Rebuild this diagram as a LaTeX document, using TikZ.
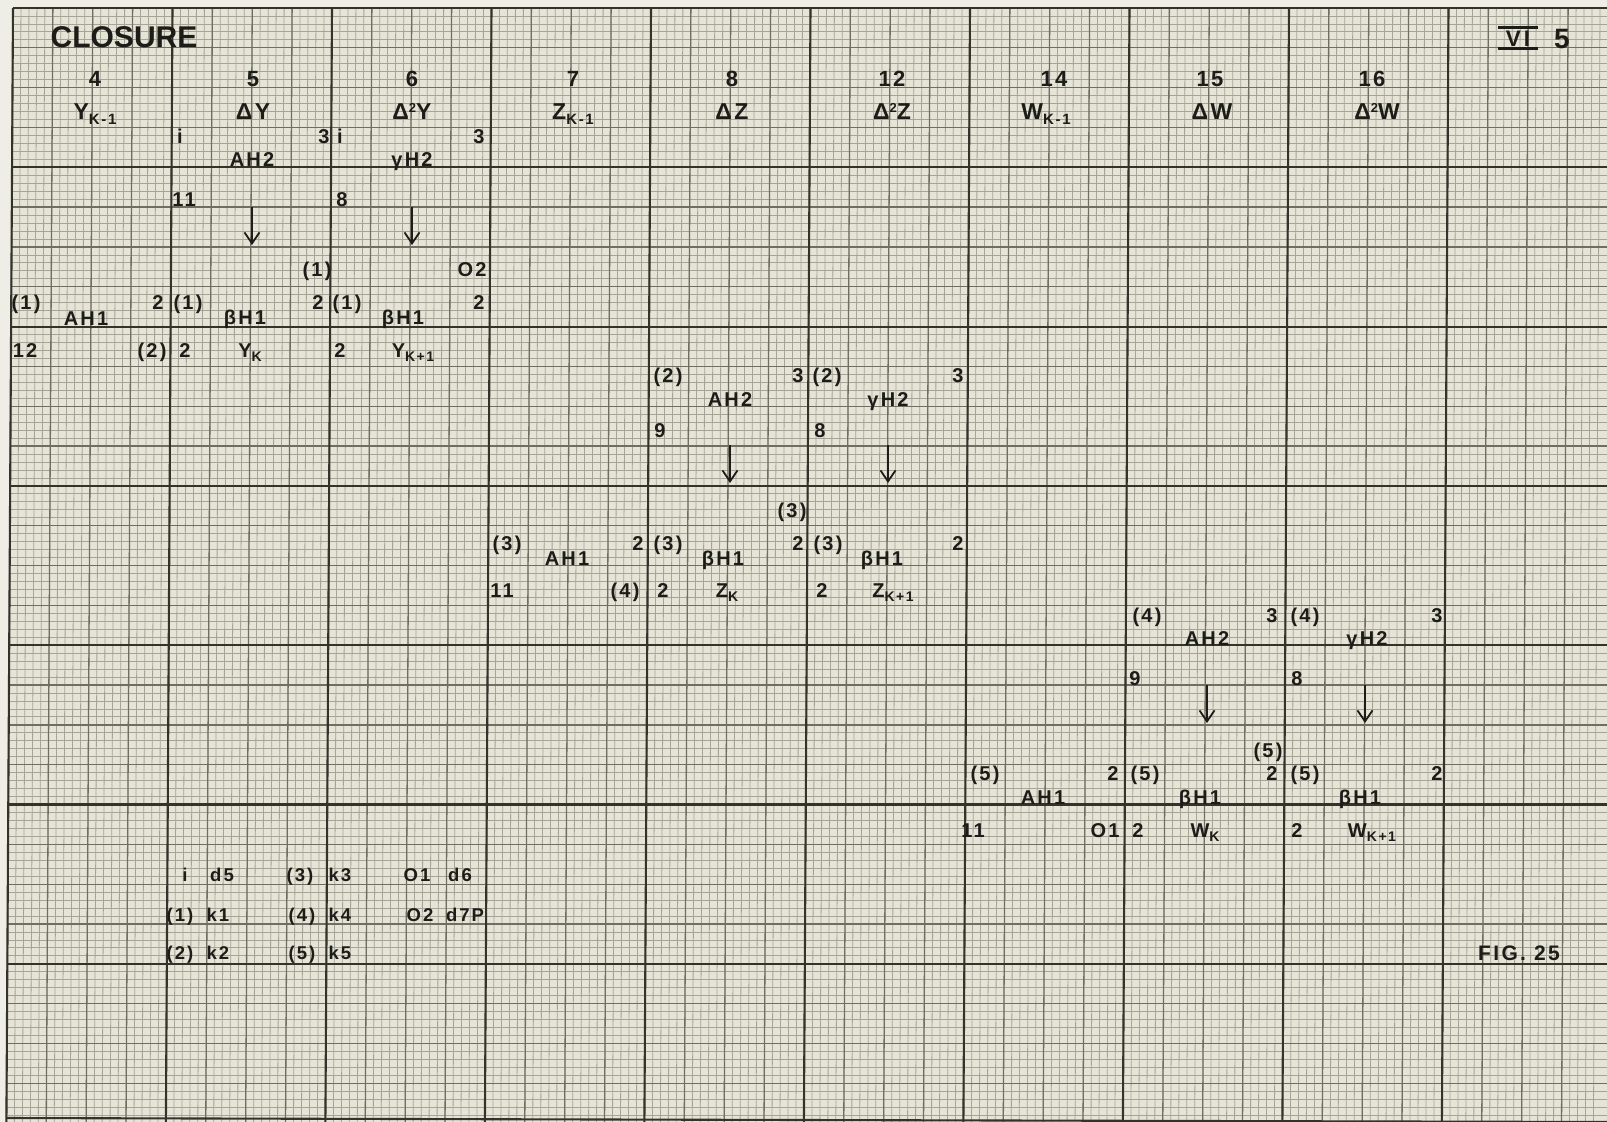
\documentclass[tikz,border=0pt]{standalone}
\usepackage{fontspec}
\setmainfont{Liberation Sans}
\newfontfamily\lsf{Liberation Sans}[LetterSpace=11]
\usetikzlibrary{arrows.meta}
\definecolor{paper}{HTML}{E5E4D6}
\definecolor{marginC}{HTML}{EEEDE6}
\definecolor{fineC}{HTML}{A4A497}
\definecolor{medC}{HTML}{6E6E63}
\definecolor{heavyC}{HTML}{33332C}
\definecolor{ink}{HTML}{1C1C18}
\newcommand\titf{\bfseries\fontsize{30}{32}\selectfont}
\newcommand\numf{\lsf\bfseries\fontsize{22}{24}\selectfont}
\newcommand\namef{\lsf\bfseries\fontsize{23}{25}\selectfont}
\newcommand\labf{\lsf\bfseries\fontsize{20}{22}\selectfont}
\newcommand\legf{\lsf\bfseries\fontsize{18.5}{20}\selectfont}
\newcommand\figf{\lsf\bfseries\fontsize{21}{23}\selectfont}
\newcommand\hsub[1]{\raisebox{-5pt}{\fontsize{15}{15}\selectfont #1}}
\newcommand\lsub[1]{\raisebox{-4pt}{\fontsize{14}{14}\selectfont #1}}
\newcommand\sqr{\raisebox{7pt}{\fontsize{13}{13}\selectfont 2}}
\begin{document}
\begin{tikzpicture}[x=1pt,y=-1pt,
  fineline/.style={draw=fineC, line width=0.8pt},
  medline/.style={draw=medC, line width=1.3pt},
  heavyline/.style={draw=heavyC, line width=2.1pt},
  lab/.style={inner sep=0pt, text height=14.3pt, text depth=0pt, text=ink, font=\labf},
  hnum/.style={inner sep=0pt, text height=16pt, text depth=0pt, text=ink, font=\numf},
  hname/.style={inner sep=0pt, text height=17pt, text depth=0pt, text=ink, font=\namef},
  leg/.style={inner sep=0pt, text height=13.2pt, text depth=0pt, text=ink, font=\legf},
  arr/.style={draw=ink, line width=1.8pt, -{Straight Barb[length=11pt,width=15pt,line width=1.8pt]}}]
\useasboundingbox (0,0) rectangle (1607,1122);
% ---------- graph paper ----------
\begin{scope}
\clip (0,0) rectangle (1607,1122);
\fill[marginC] (0,0) rectangle (1607,1122);
\fill[paper] (13,8) -- (1607,8) -- (1607,1122) -- (6.4,1122) -- cycle;
\foreach \k in {0,...,199}{
  \pgfmathsetmacro\xx{13+7.975*\k}
  \draw[fineline] (\xx,8) -- (\xx-6.6,1122);}
\foreach \k in {0,...,139}{
  \pgfmathsetmacro\yy{8+7.965*\k}
  \pgfmathsetmacro\xl{13-0.00594*(\yy-8)}
  \draw[fineline] (\xl,\yy) -- (1607,\yy);}
\foreach \k in {0,...,39}{
  \pgfmathsetmacro\xx{13+39.875*\k}
  \draw[medline] (\xx,8) -- (\xx-6.6,1122);}
\foreach \k in {0,...,27}{
  \pgfmathsetmacro\yy{8+39.825*\k}
  \pgfmathsetmacro\xl{13-0.00594*(\yy-8)}
  \draw[medline] (\xl,\yy) -- (1607,\yy);}
\foreach \k in {0,...,9}{
  \pgfmathsetmacro\xx{13+159.5*\k}
  \draw[heavyline] (\xx,8) -- (\xx-6.6,1122);}
\foreach \k in {0,...,6}{
  \pgfmathsetmacro\yy{8+159.3*\k}
  \pgfmathsetmacro\xl{13-0.00594*(\yy-8)}
  \draw[heavyline] (\xl,\yy) -- (1607,\yy);}
\draw[heavyline] (6.4,1118) -- (1607,1122);
\end{scope}
% ---------- title ----------
\node[inner sep=0pt, text height=22pt, text depth=0pt, text=ink, font=\titf] (closure) at (124,36) {CLOSURE};
\node[inner sep=0pt, text height=16pt, text depth=0pt, minimum width=40pt, text=ink, font=\bfseries\fontsize{22.5}{24}\selectfont] (vi) at (1518,38) {V\hspace{3pt}I};
\draw[ink, line width=2.8pt] ([yshift=2.3pt]vi.north west) -- ([yshift=2.3pt]vi.north east);
\draw[ink, line width=2.8pt] ([yshift=-2.3pt]vi.south west) -- ([yshift=-2.3pt]vi.south east);
\node[inner sep=0pt, text height=20pt, text depth=0pt, text=ink, font=\bfseries\fontsize{28}{30}\selectfont] (pg) at (1562,38) {5};
% ---------- column headers ----------
\node[hnum] (h4) at (95,78) {4};
\node[hnum] (h5) at (253,78) {5};
\node[hnum] (h6) at (412,78) {6};
\node[hnum] (h7) at (573,78) {7};
\node[hnum] (h8) at (732,78) {8};
\node[hnum] (h12) at (892,78) {12};
\node[hnum] (h14) at (1054,78) {14};
\node[hnum] (h15) at (1210,78) {15};
\node[hnum] (h16) at (1372,78) {16};
\node[hname] (n4) at (95,111) {Y\hsub{K-1}};
\node[hname] (n5) at (253,111) {ΔY};
\node[hname] (n6) at (412,111) {Δ\sqr Y};
\node[hname] (n7) at (573,111) {Z\hsub{K-1}};
\node[hname] (n8) at (732,111) {ΔZ};
\node[hname] (n12) at (892,111) {Δ\sqr Z};
\node[hname] (n14) at (1046,111) {W\hsub{K-1}};
\node[hname] (n15) at (1212,111) {ΔW};
\node[hname] (n16) at (1377,111) {Δ\sqr W};
% ---------- Y block ----------
\node[lab] (y_i) at (180,136) {i};
\node[lab] (y_3a) at (324,136) {3};
\node[lab] (y_ib) at (340,136) {i};
\node[lab] (y_3b) at (479,136) {3};
\node[lab] (y_ah2) at (252,159) {AH2};
\node[lab] (y_gh2) at (412,159) {γH2};
\node[lab] (y_11) at (184,199) {11};
\node[lab] (y_8) at (342,199) {8};
\coordinate (y_a1s) at (252,207); \coordinate (y_a1e) at (252,245);
\coordinate (y_a2s) at (412,207); \coordinate (y_a2e) at (412,245);
\draw[arr] (y_a1s) -- (y_a1e);
\draw[arr] (y_a2s) -- (y_a2e);
\node[lab] (y_p1c) at (317,269) {(1)};
\node[lab] (y_o2) at (472,269) {O2};
\node[lab] (y_p1a) at (26,302) {(1)};
\node[lab] (y_ah1) at (86,318) {AH1};
\node[lab] (y_2a) at (158,302) {2};
\node[lab] (y_p1b) at (188,302) {(1)};
\node[lab] (y_bh1a) at (245,317) {βH1};
\node[lab] (y_2b) at (318,302) {2};
\node[lab] (y_p1d) at (347,302) {(1)};
\node[lab] (y_bh1b) at (403,317) {βH1};
\node[lab] (y_2c) at (479,302) {2};
\node[lab] (y_12) at (25,350) {12};
\node[lab] (y_p2) at (152,350) {(2)};
\node[lab] (y_2d) at (185,350) {2};
\node[lab] (y_yk) at (250,350) {Y\lsub{K}};
\node[lab] (y_2e) at (340,350) {2};
\node[lab] (y_yk1) at (413,350) {Y\lsub{K+1}};
% ---------- Z block ----------
\node[lab] (z_p2a) at (668,375) {(2)};
\node[lab] (z_3a) at (798,375) {3};
\node[lab] (z_p2b) at (827,375) {(2)};
\node[lab] (z_3b) at (958,375) {3};
\node[lab] (z_ah2) at (730,399) {AH2};
\node[lab] (z_gh2) at (888,399) {γH2};
\node[lab] (z_9) at (660,430) {9};
\node[lab] (z_8) at (820,430) {8};
\coordinate (z_a1s) at (730,445); \coordinate (z_a1e) at (730,483);
\coordinate (z_a2s) at (888,445); \coordinate (z_a2e) at (888,483);
\draw[arr] (z_a1s) -- (z_a1e);
\draw[arr] (z_a2s) -- (z_a2e);
\node[lab] (z_p3c) at (792,510) {(3)};
\node[lab] (z_p3a) at (507,543) {(3)};
\node[lab] (z_ah1) at (567,558) {AH1};
\node[lab] (z_2a) at (638,543) {2};
\node[lab] (z_p3b) at (668,543) {(3)};
\node[lab] (z_bh1a) at (723,558) {βH1};
\node[lab] (z_2b) at (798,543) {2};
\node[lab] (z_p3d) at (828,543) {(3)};
\node[lab] (z_bh1b) at (882,558) {βH1};
\node[lab] (z_2c) at (958,543) {2};
\node[lab] (z_11) at (502,590) {11};
\node[lab] (z_p4) at (625,590) {(4)};
\node[lab] (z_2d) at (663,590) {2};
\node[lab] (z_zk) at (727,590) {Z\lsub{K}};
\node[lab] (z_2e) at (822,590) {2};
\node[lab] (z_zk1) at (893,590) {Z\lsub{K+1}};
% ---------- W block ----------
\node[lab] (w_p4a) at (1147,615) {(4)};
\node[lab] (w_3a) at (1272,615) {3};
\node[lab] (w_p4b) at (1305,615) {(4)};
\node[lab] (w_3b) at (1437,615) {3};
\node[lab] (w_ah2) at (1207,638) {AH2};
\node[lab] (w_gh2) at (1367,638) {γH2};
\node[lab] (w_9) at (1135,678) {9};
\node[lab] (w_8) at (1297,678) {8};
\coordinate (w_a1s) at (1207,685); \coordinate (w_a1e) at (1207,723);
\coordinate (w_a2s) at (1365,685); \coordinate (w_a2e) at (1365,723);
\draw[arr] (w_a1s) -- (w_a1e);
\draw[arr] (w_a2s) -- (w_a2e);
\node[lab] (w_p5c) at (1268,750) {(5)};
\node[lab] (w_p5a) at (985,773) {(5)};
\node[lab] (w_ah1) at (1043,797) {AH1};
\node[lab] (w_2a) at (1113,773) {2};
\node[lab] (w_p5b) at (1145,773) {(5)};
\node[lab] (w_bh1a) at (1200,797) {βH1};
\node[lab] (w_2b) at (1272,773) {2};
\node[lab] (w_p5d) at (1305,773) {(5)};
\node[lab] (w_bh1b) at (1360,797) {βH1};
\node[lab] (w_2c) at (1437,773) {2};
\node[lab] (w_11) at (973,830) {11};
\node[lab] (w_o1) at (1105,830) {O1};
\node[lab] (w_2d) at (1138,830) {2};
\node[lab] (w_wk) at (1205,830) {W\lsub{K}};
\node[lab] (w_2e) at (1297,830) {2};
\node[lab] (w_wk1) at (1372,830) {W\lsub{K+1}};
% ---------- legend ----------
\node[leg] (l_i) at (185,875) {i};
\node[leg] (l_d5) at (222,875) {d5};
\node[leg] (l_p3) at (300,875) {(3)};
\node[leg] (l_k3) at (340,875) {k3};
\node[leg] (l_o1) at (417,875) {O1};
\node[leg] (l_d6) at (460,875) {d6};
\node[leg] (l_p1) at (180,915) {(1)};
\node[leg] (l_k1) at (218,915) {k1};
\node[leg] (l_p4) at (302,915) {(4)};
\node[leg] (l_k4) at (340,915) {k4};
\node[leg] (l_o2) at (420,915) {O2};
\node[leg] (l_d7p) at (465,915) {d7P};
\node[leg] (l_p2) at (180,953) {(2)};
\node[leg] (l_k2) at (218,953) {k2};
\node[leg] (l_p5) at (302,953) {(5)};
\node[leg] (l_k5) at (340,953) {k5};
% ---------- figure number ----------
\node[inner sep=0pt, text height=15pt, text depth=0pt, text=ink, font=\figf] (fig) at (1519,953) {FIG. 25};
\end{tikzpicture}
\end{document}
